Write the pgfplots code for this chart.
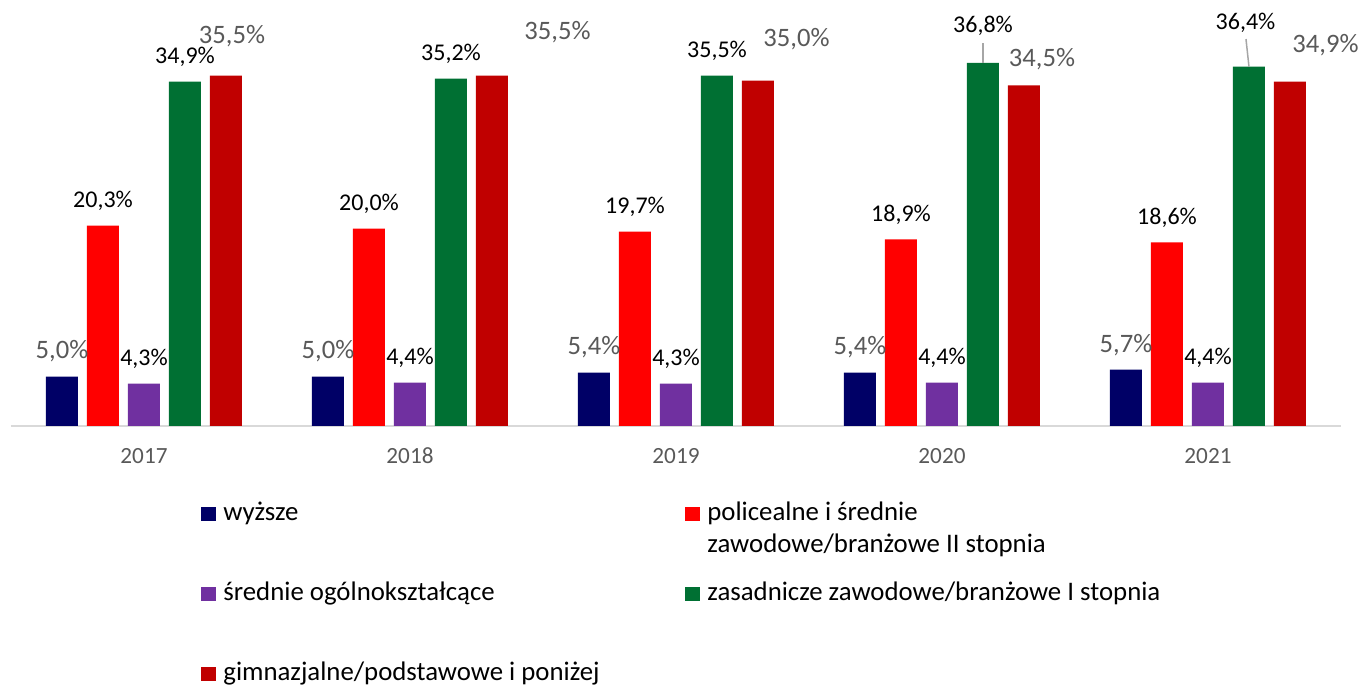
\documentclass[border=0pt]{standalone}
\usepackage{fontspec}
\setmainfont{Carlito}
\usepackage{pgfplots}
\usepackage{pgfplotstable}
\pgfplotsset{compat=1.18}

\definecolor{cnavy}{RGB}{0,0,102}
\definecolor{cred}{RGB}{255,0,0}
\definecolor{cpurple}{RGB}{112,48,160}
\definecolor{cgreen}{RGB}{0,112,51}
\definecolor{cdarkred}{RGB}{192,0,0}
\definecolor{labgray}{RGB}{89,89,89}
\definecolor{axgray}{RGB}{217,217,217}
\definecolor{leadgray}{RGB}{166,166,166}

% x y and label offsets (pt)
\pgfplotstableread{
x y dx dy
0 5.0 0 8.85
1 5.0 0 8.85
2 5.4 0 8.85
3 5.4 0 8.85
4 5.7 0 8.85
}\wyzsze
\pgfplotstableread{
x y dx dy
0 20.3 0 9
1 20.0 0 9
2 19.7 0 9
3 18.9 0 9
4 18.6 0 9
}\policealne
\pgfplotstableread{
x y dx dy
0 4.3 0 9
1 4.4 0 9
2 4.3 0 9
3 4.4 0 9
4 4.4 0 9
}\srednie
\pgfplotstableread{
x y dx dy
0 34.9 0 9
1 35.2 0 9
2 35.5 0 9
3 36.8 0 14.9
4 36.4 -1.75 18.85
}\zasadnicze
\pgfplotstableread{
x y dx dy
0 35.5 3 16.3
1 35.5 32.75 18.3
2 35.0 19.25 17.25
3 34.5 9 9.25
4 34.9 17.75 14.75
}\gimnazjalne

\newcommand{\pct}{\pgfmathprintnumber[fixed,fixed zerofill,precision=1,use comma,assume math mode=true]{\pgfplotspointmeta}\%}

\pgfplotsset{
  lab/.style={
    nodes near coords={\pct},
    visualization depends on={\thisrow{dx} \as \dx},
    visualization depends on={\thisrow{dy} \as \dy},
    nodes near coords style={anchor=base, inner sep=0pt, xshift=\dx pt, yshift=\dy pt, #1},
  },
  blacklab/.style={lab={font=\fontsize{12}{14}\selectfont, text=black}},
  graylab/.style={lab={font=\fontsize{13.3}{16}\selectfont, text=labgray}},
}

\begin{document}
\begin{tikzpicture}[x=0.5pt,y=0.5pt]
\useasboundingbox (0,0) rectangle (1362,686);
\begin{axis}[
  at={(5.5pt,130pt)}, anchor=south west,
  scale only axis, width=665pt, height=197.4pt,
  xmin=-0.5, xmax=4.5, ymin=0, ymax=40,
  ybar=4.5pt, bar width=16pt,
  clip=false,
  axis x line=bottom, hide y axis,
  x axis line style={draw=axgray, line width=0.9pt, -},
  xtick={0,1,2,3,4},
  xticklabels={2017,2018,2019,2020,2021},
  major tick length=0pt,
  xticklabel style={anchor=base, yshift=-19pt, font=\fontsize{11.6}{14}\selectfont, text=labgray},
]
\addplot[fill=cnavy, draw=none, graylab] table[x=x,y=y] {\wyzsze};
\addplot[fill=cred, draw=none, blacklab] table[x=x,y=y] {\policealne};
\addplot[fill=cpurple, draw=none, blacklab] table[x=x,y=y] {\srednie};
\addplot[fill=cgreen, draw=none, blacklab] table[x=x,y=y] {\zasadnicze};
\addplot[fill=cdarkred, draw=none, graylab] table[x=x,y=y] {\gimnazjalne};
% leader lines of moved labels
\draw[leadgray, line width=0.75pt] (axis cs:3.1541,36.8) -- ++(0pt,10pt);
\draw[leadgray, line width=0.75pt] (axis cs:4.1541,36.4) -- ++(-1.5pt,13.85pt);
\end{axis}

% legend
\begin{scope}[every node/.style={anchor=base west, inner sep=0pt, font=\fontsize{13.4}{16}\selectfont}]
\fill[cnavy] (201,165) rectangle (215.5,179);
\node at (223,165) {wyższe};
\fill[cred] (685,165) rectangle (699.5,179);
\node at (707,165) {policealne i średnie};
\node at (707,133) {zawodowe/branżowe II stopnia};
\fill[cpurple] (201,85) rectangle (215.5,99);
\node at (223,85) {średnie ogólnokształcące};
\fill[cgreen] (685,85) rectangle (699.5,99);
\node at (707,85) {zasadnicze zawodowe/branżowe I stopnia};
\fill[cdarkred] (201,5) rectangle (215.5,19);
\node at (223,5) {gimnazjalne/podstawowe i poniżej};
\end{scope}
\end{tikzpicture}
\end{document}
